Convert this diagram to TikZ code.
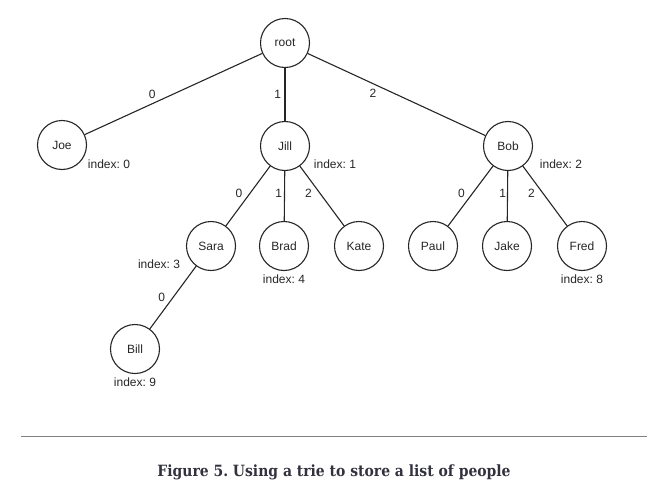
\documentclass[tikz,border=0pt]{standalone}
\usepackage{fontspec}
\setmainfont{Liberation Serif}
\setsansfont{Liberation Sans}
\newfontfamily\captionfont{DejaVu Serif Condensed}
\usepackage{tikz}
\definecolor{rulegray}{RGB}{128,128,128}
\definecolor{captionink}{RGB}{50,50,62}
\frenchspacing

\begin{document}
\begin{tikzpicture}[x=1pt,y=-1pt,
    every node/.style={font=\sffamily\fontsize{12}{14}\selectfont,text=black!85},
    person/.style={draw=black!85,circle,minimum size=49pt,inner sep=0pt,line width=1.1pt},
    link/.style={draw=black!85,line width=1.1pt},
    idx/.style={inner sep=4pt}]
  \useasboundingbox (0,0) rectangle (667,498);
  % trie nodes
  \node[person] (root) at (285,43) {root};
  \node[person,label={[idx,anchor=west,xshift=4pt,yshift=-1pt]-45:index: 0}] (joe) at (62,145) {Joe};
  \node[person,label={[idx,anchor=west,xshift=7pt]-45:index: 1}] (jill) at (285,146) {Jill};
  \node[person,label={[idx,anchor=west,xshift=10pt]-45:index: 2}] (bob) at (508,146) {Bob};
  \node[person,label={[idx,anchor=east,xshift=-9pt]-135:index: 3}] (sara) at (211,246) {Sara};
  \node[person,label={[idx]below:index: 4}] (brad) at (284,246) {Brad};
  \node[person] (kate) at (359,246) {Kate};
  \node[person] (paul) at (433,246) {Paul};
  \node[person] (jake) at (507,246) {Jake};
  \node[person,label={[idx]below:index: 8}] (fred) at (582,246) {Fred};
  \node[person,label={[idx]below:index: 9}] (bill) at (135,349) {Bill};
  % edges
  \draw[link] (root) -- node[pos=.62,above=1pt]{0} (joe);
  \draw[link] (root) -- node[midway,left]{1} (jill);
  \draw[link] (root) -- node[pos=.4,below left,inner sep=2pt]{2} (bob);
  \draw[link] (jill) -- node[pos=.45,left=4pt]{0} (sara);
  \draw[link] (jill) -- node[pos=.45,left,inner sep=2pt]{1} (brad);
  \draw[link] (jill) -- node[pos=.45,left=4pt]{2} (kate);
  \draw[link] (bob) -- node[pos=.45,left=4pt]{0} (paul);
  \draw[link] (bob) -- node[pos=.45,left,inner sep=1pt]{1} (jake);
  \draw[link] (bob) -- node[pos=.45,left=4pt]{2} (fred);
  \draw[link] (sara) -- node[midway,left=4pt]{0} (bill);
  % caption
  \draw[rulegray,line width=1pt] (21,436) -- (647,436);
  \node[anchor=base,font=\captionfont\bfseries\fontsize{15.5}{18}\selectfont,text=captionink] (caption) at (334,476.7) {Figure 5. Using a trie to store a list of people};
\end{tikzpicture}
\end{document}
